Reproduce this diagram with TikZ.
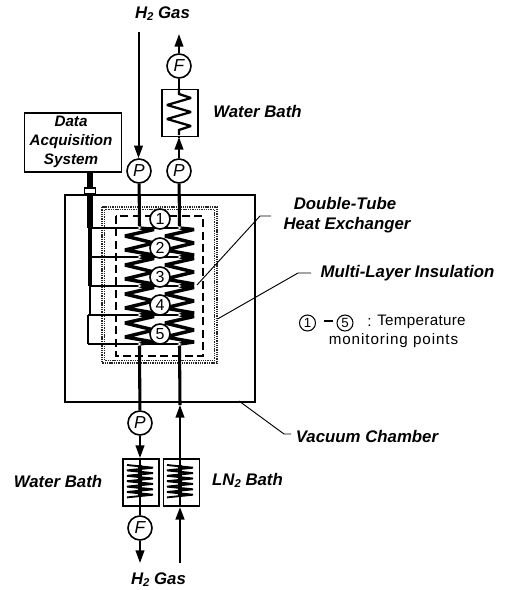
\documentclass[tikz,border=0pt]{standalone}
\usepackage{fontspec}
\setmainfont{Liberation Sans}
\usetikzlibrary{arrows.meta}
\tikzset{
  lab/.style={font=\fontsize{12.6}{15}\selectfont\bfseries\itshape,inner sep=0pt,align=center},
  small/.style={font=\fontsize{11.4}{14}\selectfont,inner sep=0pt,align=center},
  gauge/.style={draw,circle,fill=white,line width=1.2pt,minimum size=18pt,inner sep=0pt,font=\fontsize{13}{13}\selectfont\itshape},
  point/.style={draw,circle,fill=white,line width=1.2pt,minimum size=15pt,inner sep=0pt,font=\fontsize{12}{12}\selectfont},
  legend/.style={draw,circle,line width=.8pt,minimum size=12pt,inner sep=0pt,font=\fontsize{10}{10}\selectfont},
  box/.style={draw,line width=1.15pt},
  tube/.style={line width=2.3pt},
  thintube/.style={line width=1.5pt},
  wire/.style={line width=1pt},
  coil/.style={line width=2.6pt,line join=miter,miter limit=2},
  bathcoil/.style={line width=1.4pt,line join=bevel},
  leader/.style={line width=.7pt},
  tip/.style={-{Triangle[length=9.5pt,width=6.5pt]}},
  joint/.style={draw=black!55,fill=white,circle,line width=.5pt,minimum size=2.6pt,inner sep=0pt},
  mli/.style={draw=black!85,line width=1pt,dash pattern=on 1pt off .7pt}
}
\newcommand{\coilseg}[2]{%
  \draw[coil,shift={(#1,#2)}] (0,0) -- (14.5,1.5) -- (-14.5,8) -- (14.5,15) -- (-14.5,22) -- (14.5,27) -- (0,29);}
\begin{document}
\begin{tikzpicture}[x=0.75pt,y=-0.75pt]
\useasboundingbox (0,0) rectangle (507,590);
% chamber and insulation
\node[box,minimum width=142.5pt,minimum height=155.25pt,inner sep=0pt,anchor=north west] (chamber) at (64,194) {};
\draw[mli] (102,207) rectangle (217,363);
\draw[mli] (104.5,209.5) rectangle (214.5,360.5);
\draw[line width=1.4pt,dash pattern=on 6pt off 3.2pt] (116,216) rectangle (203,356);
% coordinates
\foreach \n/\y in {a/228,b/257,c/286,d/315,e/344}{
  \coordinate (L\n) at (139.5,\y);
  \coordinate (R\n) at (179.5,\y);
  \coordinate (W\n) at (90,\y);
}
\coordinate (We2) at (88,344);
\coordinate (Wd2) at (88,315);
% data acquisition
\node[box,minimum width=73pt,minimum height=44.25pt,inner sep=0pt,anchor=north west] (daq) at (23.5,112) {};
\node[lab,font=\fontsize{11.4}{14.3}\selectfont\bfseries\itshape] (daqtext) at (71,142) {Data\\Acquisition\\System};
\coordinate (feedT) at (90,188);
\draw[line width=5.2pt] (daq.south -| feedT) -- (feedT);
\draw[line width=4pt] (90,193) -- (Wa);
\draw[line width=3.2pt] (Wa) -- (Wb);
\draw[line width=2.4pt] (Wb) -- (Wc);
\draw[line width=1.6pt] (Wc) -- (Wd);
\draw[wire] (Wd2) -- (We2);
\node[draw,fill=white,line width=.8pt,minimum width=8.5pt,minimum height=3.8pt,inner sep=0pt] (feed) at (90,190.5) {};
% wires
\draw[wire] (Wa) -- (Ra);
\draw[wire] (Wb) -- (Rb);
\draw[wire] (Wc) -- (Rc);
\draw[wire] (Wd2) -- (Rd);
\draw[wire] (We2) -- (Re);
% coils
\foreach \y in {228,257,286,315}{
  \coilseg{139.5}{\y}
  \coilseg{179.5}{\y}
}
\foreach \n in {a,b,c,d,e}{
  \node[joint] (jl\n) at (L\n) {};
  \node[joint] (jr\n) at (R\n) {};
}
\foreach \n/\y/\t in {p1/219/1,p2/248/2,p3/277/3,p4/305/4,p5/334/5}{
  \node[point] (\n) at (160,\y) {\t};
}
% top tubes
\node[gauge] (Pl) at (139,171) {P};
\node[gauge] (Pr) at (179,171) {P};
\node[gauge] (Ft) at (179,66) {F};
\node[box,minimum width=27pt,minimum height=35.25pt,inner sep=0pt,anchor=north west] (bathT) at (161,88.5) {};
\coordinate (inT) at (138.5,32);
\coordinate (outT) at (179,34);
\coordinate (tipT) at (179,137);
\draw[thintube,tip] (inT) -- (Pl.north -| inT);
\draw[tube] (Pl) -- (jla);
\draw[tube] (Pr) -- (jra);
\draw[thintube,tip] (Pr) -- (tipT);
\draw[thintube] (tipT) -- (bathT.south -| tipT);
\draw[thintube] (bathT.north -| tipT) -- (Ft);
\draw[thintube,tip] (Ft) -- (outT);
\draw[line width=1.7pt,line join=miter,miter limit=3,shift={(179,88)}] (0,0) -- (0,6) -- (12,10) -- (-12,17) -- (12,24) -- (-12,31) -- (12,38) -- (0,42) -- (0,47);
% bottom tubes
\node[gauge] (Pb) at (140,423) {P};
\node[gauge] (Fb) at (140,528) {F};
\node[box,minimum width=27pt,minimum height=35.25pt,inner sep=0pt,anchor=north west] (bathW) at (122,458) {};
\node[box,minimum width=27pt,minimum height=35.25pt,inner sep=0pt,anchor=north west] (bathN) at (162.5,458) {};
\coordinate (tipW) at (140,458);
\coordinate (outB) at (140,563);
\coordinate (inB) at (180,563);
\coordinate (tipN) at (180,507);
\coordinate (tipC) at (180,405);
\draw[tube] (jle) -- (Pb);
\draw[thintube,tip] (Pb) -- (tipW);
\draw[thintube] (tipW) -- (Fb);
\draw[thintube,tip] (Fb) -- (outB);
\draw[tube,tip,line width=1.8pt] (inB) -- (tipN);
\draw[thintube,tip] (tipN) -- (tipC);
\draw[tube] (tipC) -- (jre);
\foreach \cx in {140,180}{
  \draw[bathcoil,shift={(\cx,465)}] (-13,0) -- (13,2.7) -- (-13,5.4) -- (13,8.1) -- (-13,10.8) -- (13,13.5) -- (-13,16.2) -- (13,18.9) -- (-13,21.6) -- (13,24.3) -- (-13,27) -- (13,29.7) -- (-13,32.4);
  \draw[line width=3pt,shift={(\cx,465)}] (0,0) -- (0,32);
}
% labels
\node[lab] (h2top) at (162.5,14) {H\raisebox{-.2ex}{\fontsize{8.5}{8.5}\selectfont 2} Gas};
\node[lab] (h2bot) at (158.5,580) {H\raisebox{-.2ex}{\fontsize{8.5}{8.5}\selectfont 2} Gas};
\node[lab] (wbT) at (257.5,111.5) {Water Bath};
\node[lab] (wbB) at (58,481) {Water Bath};
\node[lab] (lnb) at (247.5,480.5) {LN\raisebox{-.2ex}{\fontsize{8.5}{8.5}\selectfont 2} Bath};
\node[lab] (dt) at (347,215.5) {\hspace*{-3pt}Double-Tube\\Heat Exchanger};
\node[lab] (ml) at (407.5,273) {Multi-Layer Insulation};
\node[lab] (vc) at (367,436) {Vacuum Chamber};
% leaders
\coordinate (dtA) at (197,285);
\coordinate (dtB) at (260,216);
\coordinate (dtC) at (271,216);
\draw[leader] (dtA) -- (dtB) -- (dtC);
\coordinate (mlA) at (217.5,319);
\coordinate (mlB) at (298,273);
\coordinate (mlC) at (311,273);
\draw[leader] (mlA) -- (mlB) -- (mlC);
\coordinate (vcA) at (239,401);
\coordinate (vcB) at (284,434);
\coordinate (vcC) at (291,434);
\draw[leader] (vcA) -- (vcB) -- (vcC);
% legend
\node[legend] (l1) at (307.5,323) {1};
\node[legend] (l5) at (345,323) {5};
\coordinate (dashA) at (324,321);
\coordinate (dashB) at (333,321);
\draw[line width=.8pt] (dashA) -- (dashB);
\node[small,anchor=west] (lcolon) at (367,322) {:};
\node[small,anchor=west] (lt) at (377,322) {\addfontfeature{LetterSpace=2}Temperature};
\node[small] (lm) at (393.5,341) {\addfontfeature{LetterSpace=6}monitoring points};
\end{tikzpicture}
\end{document}
